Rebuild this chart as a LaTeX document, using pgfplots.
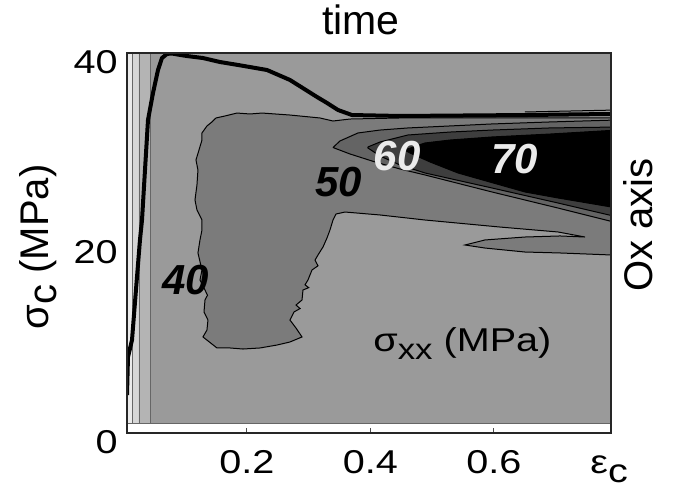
\documentclass[border=0pt]{standalone}
\usepackage{fontspec}
\setmainfont{Liberation Sans}
\newfontfamily\widefont{Liberation Sans}[FakeStretch=1.2]
\usepackage{pgfplots}
\pgfplotsset{compat=1.18}
\usetikzlibrary{calc}
\definecolor{bglight}{HTML}{9A9A9A}
\definecolor{midgray}{HTML}{7B7B7B}
\definecolor{darkmid}{HTML}{646464}
\definecolor{darkgrayb}{HTML}{3E3E3E}
\definecolor{stripA}{HTML}{EAEAEA}
\definecolor{stripB}{HTML}{D6D6D6}
\definecolor{stripC}{HTML}{B4B4B4}
\begin{document}
\begin{tikzpicture}
\begin{axis}[
  scale only axis, width=242pt, height=190pt,
  xmin=0.0057, xmax=0.7895, ymin=0, ymax=40,
  axis on top,
  clip mode=individual,
  xtick={0.2,0.4,0.6}, xticklabels={0.2,0.4,0.6},
  ytick={0,20,40}, yticklabels={0,20,40},
  xtick pos=left,
  ytick style={draw=none},
  xtick style={black!70, line width=0.5pt},
  major tick length=2.5pt,
  tick align=inside,
  /pgf/number format/assume math mode=true,
  xticklabel style={font=\widefont\fontsize{16.5}{16.5}\selectfont, anchor=base, inner sep=0pt, yshift=-20pt},
  yticklabel style={font=\widefont\fontsize{16.5}{16.5}\selectfont, anchor=base east, inner sep=0pt, xshift=-4.5pt, yshift=-10.5pt},
  axis line style={black!85, line width=0.6pt},
  no markers,
]
% background level
\addplot[fill=bglight, draw=black!60, line width=0.4pt] coordinates {(0.0429,1.05) (0.80,1.05) (0.80,40.5) (0.0429,40.5) (0.0429,1.05)};
% left strips
\addplot[fill=stripA, draw=black!60, line width=0.4pt] coordinates {(0.0,1.05) (0.0138,1.05) (0.0138,40.5) (0.0,40.5) (0.0,1.05)};
\addplot[fill=stripB, draw=black!60, line width=0.4pt] coordinates {(0.0138,1.05) (0.0251,1.05) (0.0251,40.5) (0.0138,40.5) (0.0138,1.05)};
\addplot[fill=stripC, draw=black!60, line width=0.4pt] coordinates {(0.0251,1.05) (0.0429,1.05) (0.0429,40.5) (0.0251,40.5) (0.0251,1.05)};
% level 40-50 region
\addplot[fill=midgray, draw=black, line width=0.5pt] coordinates {
(0.1433,32.74) (0.1498,33.16) (0.1644,33.37) (0.1838,33.68) (0.2049,33.58) (0.2243,33.68)
(0.2696,33.47) (0.3182,33.16) (0.3393,32.84) (0.3668,33.05) (0.4478,33.16) (0.6097,33.16)
(0.7895,33.16) (0.80,33.16) (0.80,18.74) (0.7895,18.74) (0.7069,18.95) (0.6502,19.05) (0.5854,19.47)
(0.5530,19.79) (0.5854,20.32) (0.6502,20.63) (0.7069,20.74) (0.7474,20.63) (0.7036,21.16)
(0.6097,21.68) (0.4883,22.42) (0.4154,22.95) (0.3587,23.26) (0.3441,23.05) (0.3393,22.42)
(0.3344,21.37) (0.3296,20.53) (0.3231,19.58) (0.3150,18.74) (0.3102,18.2) (0.3150,17.6) (0.3053,17.16)
(0.2988,16.11) (0.2940,15.6) (0.3000,15.3) (0.2907,15.05) (0.2891,14.00) (0.2794,13.47) (0.2860,13.1) (0.2761,12.74)
(0.2696,11.89) (0.2794,11.05) (0.2891,10.11) (0.2696,9.58) (0.2486,9.26) (0.2211,8.95)
(0.1935,8.84) (0.1725,8.95) (0.1514,8.95) (0.1287,10.11) (0.1352,10.84) (0.1368,11.89)
(0.1304,12.74) (0.1320,14.00) (0.1360,14.5) (0.1320,15.05) (0.1239,16.11) (0.1271,17.16) (0.1206,18.95)
(0.1239,20.32) (0.1271,21.37) (0.1271,22.42) (0.1190,23.47) (0.1158,24.53) (0.1190,26.11)
(0.1206,27.68) (0.1174,28.74) (0.1223,29.79) (0.1271,30.84) (0.1271,31.58) (0.1352,32.32)
(0.1433,32.74)};
% level 50-60 region
\addplot[fill=darkmid, draw=black, line width=0.5pt] coordinates {
(0.3393,30.05) (0.3506,30.74) (0.3797,31.58) (0.4154,31.89) (0.4608,32.11) (0.5289,32.32)
(0.5968,32.53) (0.6907,32.74) (0.80,32.95) (0.80,22.11) (0.7036,23.68) (0.5968,25.37)
(0.4883,27.16) (0.4478,27.79) (0.4073,28.53) (0.3668,29.37) (0.3393,30.05)};
% level 60-70 region
\addplot[fill=darkgrayb, draw=black, line width=0.5pt] coordinates {
(0.3959,30.11) (0.4154,30.63) (0.4607,31.37) (0.5289,31.68) (0.5968,31.89) (0.6907,32.11)
(0.80,32.21) (0.80,22.74) (0.7036,24.21) (0.5968,25.79) (0.4883,27.37) (0.4478,28.21)
(0.4154,29.16) (0.3959,30.0) (0.3959,30.11)};
% level >70 region
\addplot[fill=black, draw=black, line width=0.5pt] coordinates {
(0.4555,29.79) (0.4883,30.53) (0.5289,30.84) (0.5968,31.16) (0.6907,31.47) (0.80,31.89)
(0.80,23.68) (0.7036,24.74) (0.6502,25.37) (0.5417,27.37) (0.4964,28.53) (0.4640,29.47)
(0.4555,29.79)};
% thin contour line above plateau
\addplot[black, line width=0.5pt] coordinates {(0.6502,33.79) (0.80,34.0)};
% stress-strain curve
\addplot[black, line width=2pt, line join=round] coordinates {
(0.0057,4.0) (0.0073,8.0) (0.0138,9.79) (0.0202,15.05) (0.0267,20.32) (0.0300,22.42)
(0.0397,32.95) (0.0478,35.79) (0.0559,38.21) (0.0623,39.47) (0.0704,39.9) (0.0785,39.95)
(0.0866,39.85) (0.1028,39.68) (0.1287,39.47) (0.1563,39.05) (0.1854,38.74) (0.2324,38.21)
(0.2696,37.16) (0.3134,35.37) (0.3296,34.74) (0.3474,34.0) (0.3700,33.47) (0.4478,33.37)
(0.6502,33.47) (0.7895,33.58)};
% contour labels
\node[font=\bfseries\itshape\fontsize{21}{21}\selectfont, text=black] at (axis cs:0.101,16.1) {40};
\node[font=\bfseries\itshape\fontsize{21}{21}\selectfont, text=black] at (axis cs:0.348,26.4) {50};
\node[font=\bfseries\itshape\fontsize{21}{21}\selectfont, text=white!92!black] at (axis cs:0.443,29.2) {60};
\node[font=\bfseries\itshape\fontsize{21}{21}\selectfont, text=white!92!black] at (axis cs:0.634,28.8) {70};
% inner text
\node[font=\widefont\fontsize{16.5}{16.5}\selectfont, anchor=base west, inner sep=0pt] at (axis cs:0.404,8.53) {σ\raisebox{-4pt}{\fontsize{14.5}{14.5}\selectfont xx} (MPa)};
% titles and labels
\node[font=\fontsize{20.5}{20.5}\selectfont, anchor=base, inner sep=0pt, yshift=9pt] at (rel axis cs:0.483,1) {time};
\node[font=\fontsize{20}{20}\selectfont, anchor=base, inner sep=0pt, xshift=-39.5pt, rotate=90] at (rel axis cs:0,0.49) {σ\raisebox{-4.5pt}{c} (MPa)};
\node[font=\fontsize{20}{20}\selectfont, anchor=base, inner sep=0pt, xshift=20.5pt, rotate=90] at (rel axis cs:1,0.547) {Ox axis};
\node[font=\widefont\fontsize{16.5}{16.5}\selectfont, anchor=base west, inner sep=0pt, yshift=-20pt] at (axis cs:0.7555,0) {ε\raisebox{-4.5pt}{c}};
\coordinate (bl) at (rel axis cs:0,0);
\coordinate (tr) at (rel axis cs:1,1);
\end{axis}
\pgfresetboundingbox
\path ($(bl)+(-63.5pt,-28.5pt)$) rectangle ($(tr)+(33pt,26.5pt)$);
\end{tikzpicture}
\end{document}
